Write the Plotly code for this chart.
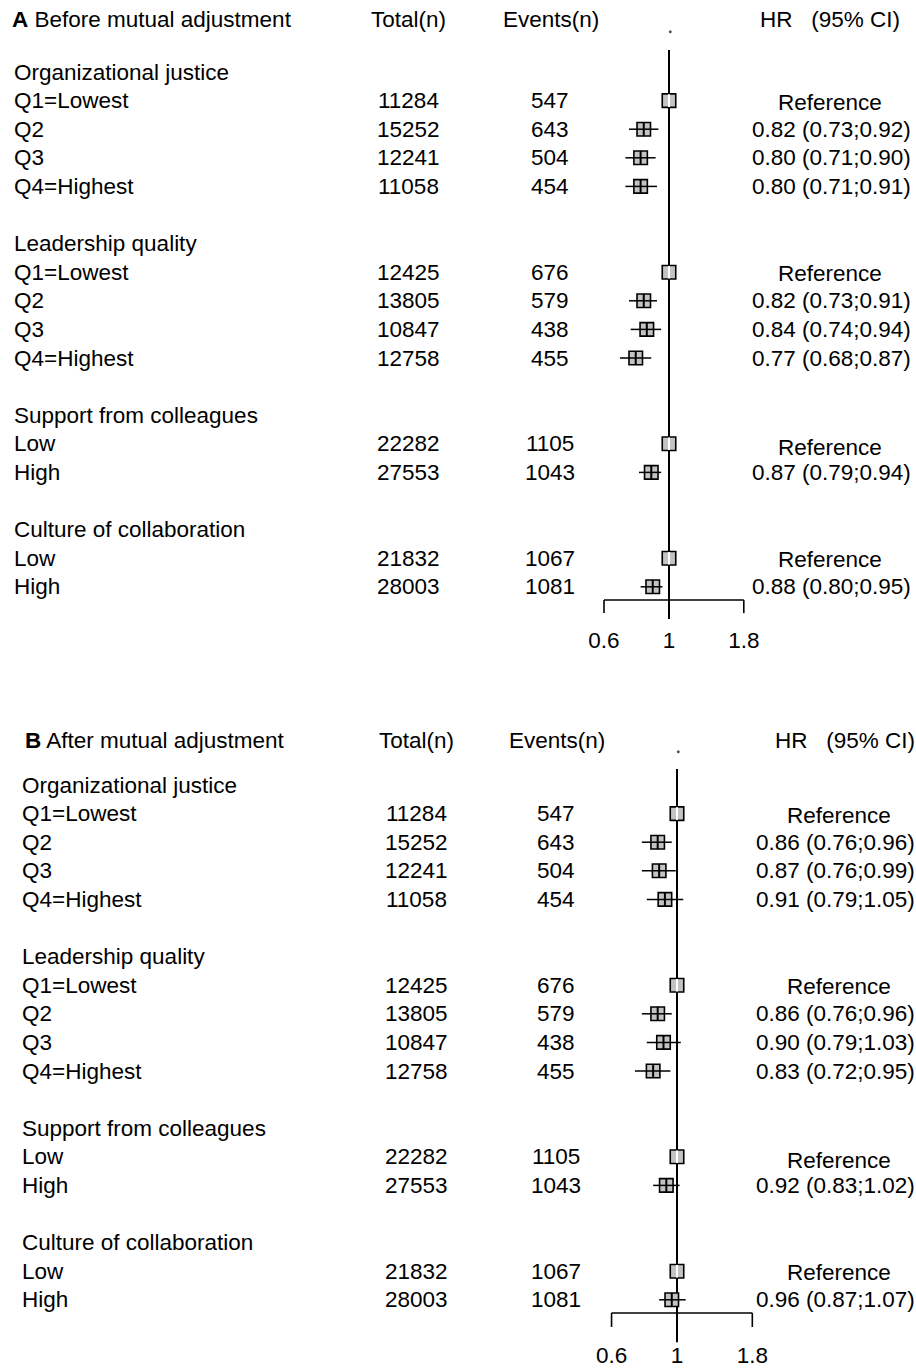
import plotly.graph_objects as go

# ---------------- data ----------------
groups = ["Organizational justice", "Leadership quality",
          "Support from colleagues", "Culture of collaboration"]
levels = [["Q1=Lowest", "Q2", "Q3", "Q4=Highest"],
          ["Q1=Lowest", "Q2", "Q3", "Q4=Highest"],
          ["Low", "High"],
          ["Low", "High"]]
total = [11284, 15252, 12241, 11058,
         12425, 13805, 10847, 12758,
         22282, 27553,
         21832, 28003]
events = [547, 643, 504, 454,
          676, 579, 438, 455,
          1105, 1043,
          1067, 1081]
hr_a = [1, 0.82, 0.80, 0.80, 1, 0.82, 0.84, 0.77, 1, 0.87, 1, 0.88]
lo_a = [None, 0.73, 0.71, 0.71, None, 0.73, 0.74, 0.68, None, 0.79, None, 0.80]
hi_a = [None, 0.92, 0.90, 0.91, None, 0.91, 0.94, 0.87, None, 0.94, None, 0.95]
hr_b = [1, 0.86, 0.87, 0.91, 1, 0.86, 0.90, 0.83, 1, 0.92, 1, 0.96]
lo_b = [None, 0.76, 0.76, 0.79, None, 0.76, 0.79, 0.72, None, 0.83, None, 0.87]
hi_b = [None, 0.96, 0.99, 1.05, None, 0.96, 1.03, 0.95, None, 1.02, None, 1.07]
axis_ticks = [0.6, 1, 1.8]
tick_labels = ["0.6", "1", "1.8"]

W, H = 916, 1368
FONT = "Liberation Sans, Arial, Helvetica, sans-serif"
FS = 22.5

fig = go.Figure()
annotations = []


def txt(text, xpx, y, yref, anchor="left", size=FS):
    annotations.append(dict(
        text=text,
        x=xpx / W, y=y, xref="paper", yref=yref,
        xanchor=anchor, yanchor="middle", showarrow=False,
        font=dict(family=FONT, size=size, color="black")))


def panel(p):
    xa, ya = p["xa"], p["ya"]
    yref = ya
    hr, lo, hi = p["hr"], p["lo"], p["hi"]
    # headers
    hy = p["header_y"]
    txt("<b>%s</b> %s" % (p["letter"], p["title"]), p["x_title"], hy, yref)
    txt("Total(n)", p["x_total"], hy, yref, "center")
    txt("Events(n)", p["x_events_h"], hy, yref, "center")
    txt("HR\u00a0\u00a0\u00a0(95% CI)", p["x_hr_h"], hy, yref, "center")

    # rows
    row = 0
    idx = 0
    est_y, est_x = [], []
    ref_y = []
    ci_x, ci_y = [], []
    for g, levs in zip(groups, levels):
        txt(g, p["x_label"], row, yref)
        row += 1
        for lev in levs:
            txt(lev, p["x_label"], row, yref)
            txt(str(total[idx]), p["x_total"], row, yref, "center")
            txt(str(events[idx]), p["x_events"], row, yref, "center")
            if lo[idx] is None:
                off = 0.14 if g.startswith("Support") else 0.06
                txt("Reference", p["x_hr_ref"], row + off, yref, "center")
                ref_y.append(row)
            else:
                txt("%.2f (%.2f;%.2f)" % (hr[idx], lo[idx], hi[idx]),
                    p["x_hr"], row, yref, "center")
                ci_x += [lo[idx], hi[idx], None]
                ci_y += [row, row, None]
            est_x.append(hr[idx])
            est_y.append(row)
            idx += 1
            row += 1
        row += 1

    # reference vertical line
    fig.add_trace(go.Scatter(x=[1, 1], y=[p["vline_top"], p["vline_bot"]],
                             mode="lines", line=dict(color="black", width=2),
                             xaxis=xa, yaxis=ya, hoverinfo="skip"))
    # small dot above
    fig.add_trace(go.Scatter(x=[1.01], y=[p["dot_y"]], mode="markers",
                             marker=dict(size=3, color="#555555"),
                             xaxis=xa, yaxis=ya, hoverinfo="skip"))
    # axis
    ay, tb = p["axis_y"], p["tick_bot"]
    fig.add_trace(go.Scatter(
        x=[axis_ticks[0], axis_ticks[0], None, axis_ticks[0], axis_ticks[-1], None,
           axis_ticks[-1], axis_ticks[-1]],
        y=[tb, ay, None, ay, ay, None, ay, tb],
        mode="lines", line=dict(color="black", width=1.6),
        xaxis=xa, yaxis=ya, hoverinfo="skip"))
    fig.add_trace(go.Scatter(x=axis_ticks, y=[p["ticklab_y"]] * 3, mode="text",
                             text=tick_labels,
                             textfont=dict(family=FONT, size=FS, color="black"),
                             textposition="middle center",
                             xaxis=xa, yaxis=ya, hoverinfo="skip"))
    # boxes
    fig.add_trace(go.Scatter(x=est_x, y=est_y, mode="markers",
                             marker=dict(symbol="square", size=13.5, color="#c3c3c3",
                                         line=dict(color="black", width=1.6)),
                             xaxis=xa, yaxis=ya, hoverinfo="skip"))
    # CI lines
    fig.add_trace(go.Scatter(x=ci_x, y=ci_y, mode="lines",
                             line=dict(color="black", width=1.5),
                             xaxis=xa, yaxis=ya, hoverinfo="skip"))
    # estimate ticks
    tick_x = [x for x, l in zip(est_x, lo) if l is not None]
    tick_y = [y for y, l in zip(est_y, lo) if l is not None]
    fig.add_trace(go.Scatter(x=tick_x, y=tick_y, mode="markers",
                             marker=dict(symbol="line-ns", size=10,
                                         line=dict(color="black", width=2)),
                             xaxis=xa, yaxis=ya, hoverinfo="skip"))
    fig.add_trace(go.Scatter(x=[1] * len(ref_y), y=ref_y, mode="markers",
                             marker=dict(symbol="line-ns", size=9,
                                         line=dict(color="white", width=2)),
                             xaxis=xa, yaxis=ya, hoverinfo="skip"))


panelA = dict(xa="x", ya="y", letter="A", title="Before mutual adjustment",
              hr=hr_a, lo=lo_a, hi=hi_a, header_y=-1.82,
              x_title=10, x_label=12, x_total=408, x_events=550, x_events_h=551,
              x_hr=831, x_hr_ref=830, x_hr_h=830,
              vline_top=-0.77, vline_bot=19.13, dot_y=-1.41,
              axis_y=18.46, tick_bot=18.92, ticklab_y=19.93)
panelB = dict(xa="x2", ya="y2", letter="B", title="After mutual adjustment",
              hr=hr_b, lo=lo_b, hi=hi_b, header_y=-1.57,
              x_title=23, x_label=20, x_total=416, x_events=556, x_events_h=557,
              x_hr=835, x_hr_ref=839, x_hr_h=845,
              vline_top=-0.56, vline_bot=19.48, dot_y=-1.16,
              axis_y=18.46, tick_bot=18.95, ticklab_y=20.0)
panel(panelA)
panel(panelB)

ROW = 28.6
# panel A: pixel rows 0..684, row 0 at pixel 72 ; panel B: pixels 684..1368, row 0 at 785
yA = [(684 - 72) / ROW, (0 - 72) / ROW]
yB = [(1368 - 785) / ROW, (684 - 785) / ROW]

common = dict(visible=False, showgrid=False, zeroline=False, fixedrange=True)
fig.update_layout(
    width=W, height=H, autosize=False,
    margin=dict(l=0, r=0, t=0, b=0),
    paper_bgcolor="white", plot_bgcolor="white",
    showlegend=False,
    xaxis=dict(type="log", range=[-669 / 293, (W - 669) / 293], domain=[0, 1],
               anchor="y", **common),
    yaxis=dict(range=yA, domain=[0.5, 1], anchor="x", **common),
    xaxis2=dict(type="log", range=[-677 / 295, (W - 677) / 295], domain=[0, 1],
                anchor="y2", **common),
    yaxis2=dict(range=yB, domain=[0, 0.5], anchor="x2", **common),
    annotations=annotations,
)

fig.write_html("out.html", config={"displayModeBar": False},
               post_script="document.body.style.margin='0';document.body.style.overflow='hidden';")
